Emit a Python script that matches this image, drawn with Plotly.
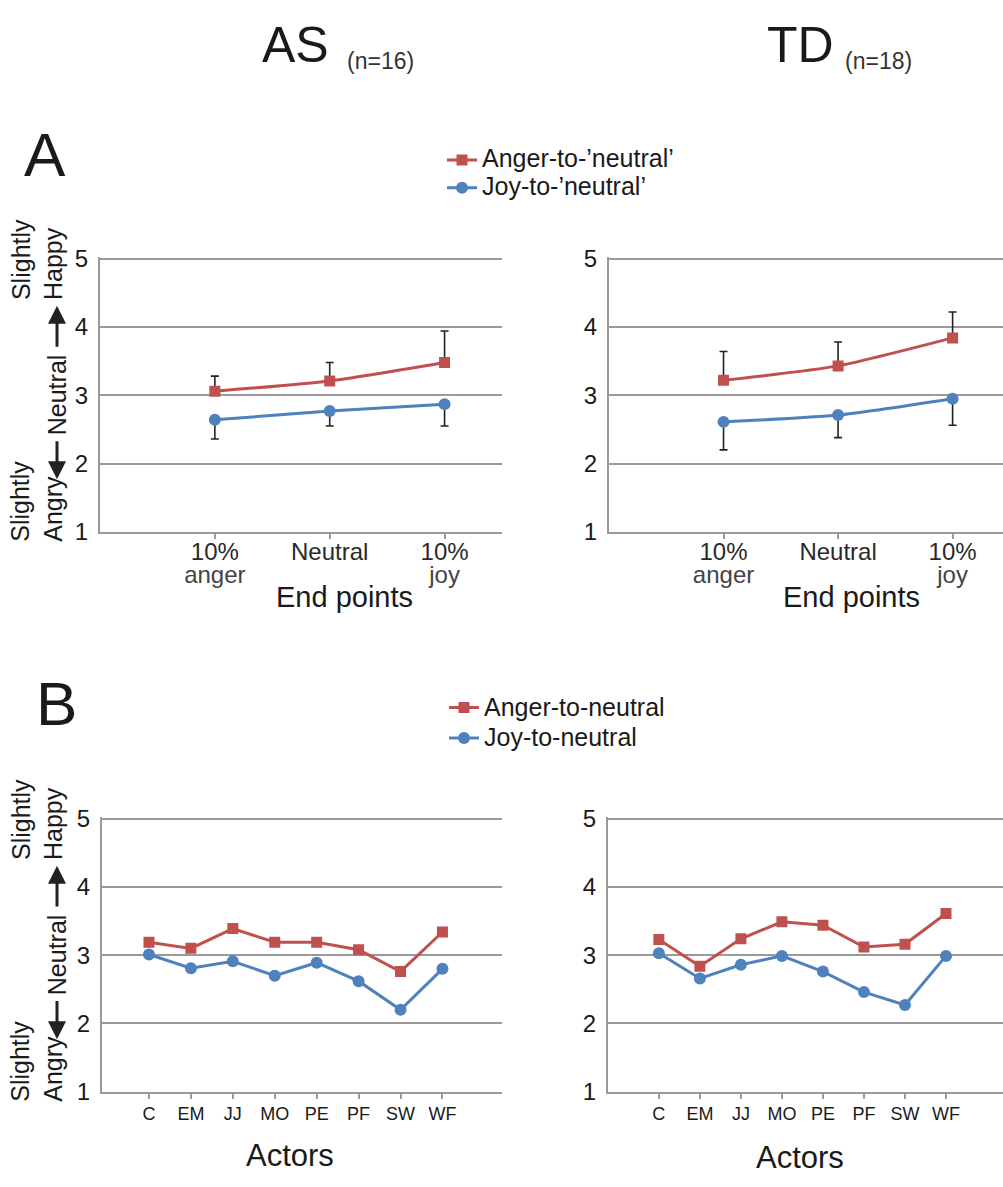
import plotly.graph_objects as go

W, H = 1003, 1187

# ---------------- data ----------------
endpoint_top = ["10%", "Neutral", "10%"]
endpoint_bottom = ["anger", "", "joy"]
actors = ["C", "EM", "JJ", "MO", "PE", "PF", "SW", "WF"]
y_ticks = [1, 2, 3, 4, 5]

as_anger_end = [3.06, 3.21, 3.48]
as_anger_end_err = [0.22, 0.27, 0.46]
as_joy_end = [2.64, 2.77, 2.87]
as_joy_end_err = [0.28, 0.22, 0.32]

td_anger_end = [3.22, 3.43, 3.84]
td_anger_end_err = [0.42, 0.35, 0.38]
td_joy_end = [2.61, 2.71, 2.95]
td_joy_end_err = [0.41, 0.33, 0.39]

as_anger_act = [3.19, 3.10, 3.39, 3.19, 3.19, 3.08, 2.76, 3.34]
as_joy_act = [3.01, 2.81, 2.91, 2.70, 2.89, 2.62, 2.20, 2.80]
td_anger_act = [3.23, 2.84, 3.24, 3.49, 3.44, 3.12, 3.16, 3.61]
td_joy_act = [3.03, 2.66, 2.86, 2.99, 2.76, 2.46, 2.27, 2.99]

# ---------------- style ----------------
RED = "#C0504D"
BLUE = "#4F81BD"
GRID = "#9a9a9a"
TXT = "#1a1a1a"
FONT = "Liberation Sans, Arial, sans-serif"


def px_x(p):
    return p / W


def px_y(p):
    return 1 - p / H


def sp(t, size, color=None):
    col = f";color:{color}" if color else ""
    return f"<span style='font-size:{size}px{col}'>{t}</span>"


end_ticktext = []
for a, b in zip(endpoint_top, endpoint_bottom):
    s = sp(a, 24, "#2a2a2a")
    if b:
        s += "<br>" + sp(b, 24, "#444444")
    end_ticktext.append(s)

fig = go.Figure()


def add_pair(xa, ya, xs, anger, joy, anger_err, joy_err, legend, names, shape, showleg):
    zeros = [0] * len(xs)
    ekw = dict(type="data", symmetric=False, color="#222222", thickness=1.6, width=4)
    fig.add_trace(go.Scatter(
        x=xs, y=anger, xaxis=xa, yaxis=ya, mode="lines+markers",
        name=names[0], legend=legend, showlegend=showleg,
        line=dict(color=RED, width=3, shape=shape, smoothing=0.6),
        marker=dict(symbol="square", size=11, color=RED),
        error_y=dict(array=anger_err, arrayminus=zeros, **ekw) if anger_err else None,
    ))
    fig.add_trace(go.Scatter(
        x=xs, y=joy, xaxis=xa, yaxis=ya, mode="lines+markers",
        name=names[1], legend=legend, showlegend=showleg,
        line=dict(color=BLUE, width=3, shape=shape, smoothing=0.6),
        marker=dict(symbol="circle", size=12, color=BLUE),
        error_y=dict(array=zeros, arrayminus=joy_err, **ekw) if joy_err else None,
    ))


xe = list(range(len(endpoint_top)))
xb = list(range(len(actors)))
namesA = [sp("Anger-to-\u2019neutral\u2019", 25), sp("Joy-to-\u2019neutral\u2019", 25)]
namesB = [sp("Anger-to-neutral", 25), sp("Joy-to-neutral", 25)]

add_pair("x", "y", xe, as_anger_end, as_joy_end, as_anger_end_err, as_joy_end_err, "legend", namesA, "spline", True)
add_pair("x2", "y2", xe, td_anger_end, td_joy_end, td_anger_end_err, td_joy_end_err, "legend", namesA, "spline", False)
add_pair("x3", "y3", xb, as_anger_act, as_joy_act, None, None, "legend2", namesB, "linear", True)
add_pair("x4", "y4", xb, td_anger_act, td_joy_act, None, None, "legend2", namesB, "linear", False)

ydomA = [px_y(531), px_y(250.6)]
ydomB = [px_y(1103), px_y(822.6)]

xcommon = dict(showline=True, linecolor=GRID, linewidth=2, ticks="outside", ticklen=5,
               tickcolor=GRID, tickwidth=1.5, showgrid=False, zeroline=False,
               tickfont=dict(family=FONT, size=17.5, color=TXT))
ycommon = dict(range=[1, 5.02], tickvals=y_ticks, showline=True, linecolor=GRID, linewidth=2,
               showgrid=True, gridcolor=GRID, gridwidth=2, zeroline=False, ticks="",
               tickfont=dict(family=FONT, size=24, color=TXT), ticklabelstandoff=5)

fig.update_layout(
    width=W, height=H, margin=dict(l=0, r=0, t=0, b=0),
    paper_bgcolor="white", plot_bgcolor="white",
    font=dict(family=FONT, color=TXT),
    xaxis=dict(domain=[px_x(100), px_x(502)], range=[-1, 2.5], tickvals=xe, ticktext=end_ticktext,
               anchor="y", **xcommon),
    yaxis=dict(domain=ydomA, anchor="x", **ycommon),
    xaxis2=dict(domain=[px_x(609), 1.0], range=[-1, 2.44], tickvals=xe, ticktext=end_ticktext,
                anchor="y2", **xcommon),
    yaxis2=dict(domain=ydomA, anchor="x2", **ycommon),
    xaxis3=dict(domain=[px_x(102), px_x(502)], range=[-1.12, 8.42], tickvals=xb,
                ticktext=[sp(a, 18) for a in actors], anchor="y3", **xcommon),
    yaxis3=dict(domain=ydomB, anchor="x3", **ycommon),
    xaxis4=dict(domain=[px_x(608), 1.0], range=[-1.24, 8.39], tickvals=xb,
                ticktext=[sp(a, 18) for a in actors], anchor="y4", **xcommon),
    yaxis4=dict(domain=ydomB, anchor="x4", **ycommon),
    legend=dict(x=px_x(442), y=px_y(132), xanchor="left", yanchor="top",
                font=dict(family=FONT, size=19, color=TXT), bgcolor="rgba(0,0,0,0)",
                tracegroupgap=0, itemwidth=30),
    legend2=dict(x=px_x(444), y=px_y(690), xanchor="left", yanchor="top",
                 font=dict(family=FONT, size=21, color=TXT), bgcolor="rgba(0,0,0,0)",
                 tracegroupgap=0, itemwidth=30),
)

ann = []


def text_ann(text, x, y, size, xref="paper", yref="paper", **kw):
    ann.append(dict(text=text, x=x, y=y, xref=xref, yref=yref, showarrow=False,
                    font=dict(family=FONT, size=size, color=kw.pop("color", TXT)),
                    xanchor=kw.pop("xanchor", "center"), yanchor=kw.pop("yanchor", "middle"), **kw))


# group titles
text_ann("AS", px_x(295), px_y(34), 50)
text_ann("(n=16)", px_x(380), px_y(50), 23, color="#333333")
text_ann("TD", px_x(800), px_y(34), 50)
text_ann("(n=18)", px_x(878), px_y(50), 23, color="#333333")
# panel letters
text_ann("A", px_x(45), px_y(146), 62)
text_ann("B", px_x(56), px_y(706), 62)
# axis titles
text_ann("End points", px_x(344), px_y(598), 29)
text_ann("End points", px_x(851), px_y(598), 29)
text_ann("Actors", px_x(290), px_y(1168), 31)
text_ann("Actors", px_x(800), px_y(1170), 31)

# rotated y-axis descriptors for both panels
for yr in ["y", "y3"]:
    text_ann("Slightly<br>Happy", px_x(37), 4.98, 25, yref=yr, textangle=-90, align="left")
    text_ann("Neutral", px_x(57), 3.0, 25, yref=yr, textangle=-90)
    text_ann("Slightly<br>Angry", px_x(37), 1.44, 25, yref=yr, textangle=-90, align="left")
    for tip, tail in [(4.31, 3.69), (1.77, 2.35)]:
        ann.append(dict(x=px_x(57), y=tip, xref="paper", yref=yr, ax=0, ay=tail,
                        axref="pixel", ayref=yr, showarrow=True, arrowhead=2,
                        arrowsize=1.2, arrowwidth=3, arrowcolor="#222222", text=""))

fig.update_layout(annotations=ann)

pin_js = (
    "document.documentElement.style.margin='0';"
    "document.documentElement.style.overflow='hidden';"
    "document.body.style.margin='0';"
    "document.body.style.overflow='hidden';"
    "document.body.style.height='1187px';"
    "var gd=document.getElementById('{plot_id}');"
    "gd.style.position='fixed';gd.style.top='0px';gd.style.left='0px';"
)
fig.write_html("out.html", config={"displayModeBar": False}, post_script=pin_js)
